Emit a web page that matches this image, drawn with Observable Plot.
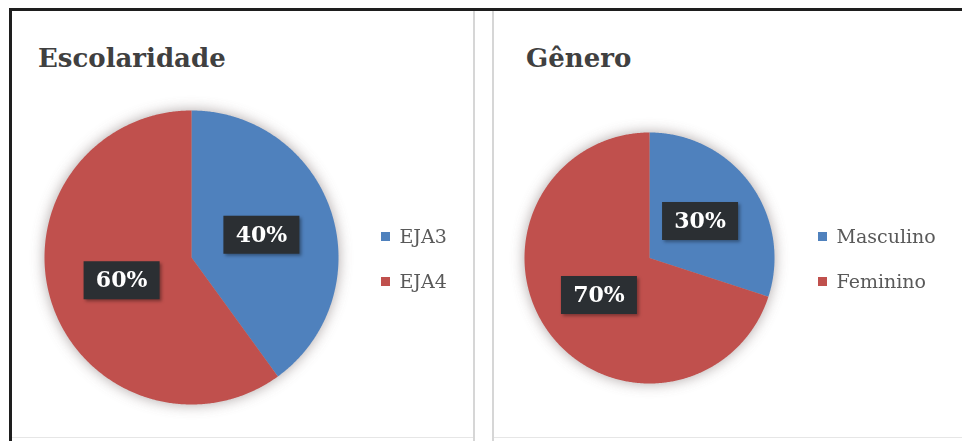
<!DOCTYPE html>
<html><head><meta charset="utf-8">
<script src="https://cdn.jsdelivr.net/npm/d3@7"></script>
<script src="https://cdn.jsdelivr.net/npm/@observablehq/plot@0.6"></script>
<style>
body{margin:0;background:#fff;}
#root{position:relative;width:962px;height:441px;overflow:hidden;background:#fff;}
.ln{position:absolute;}
.title{position:absolute;font-family:"DejaVu Serif",serif;font-weight:bold;font-size:26px;color:#404040;line-height:26px;white-space:nowrap;}
.pane{position:absolute;top:0;}
.leg{position:absolute;width:160px;}
.lg-swatch{padding-bottom:23px !important;line-height:22px;}
</style></head><body><div id="root"></div>
<script>
// ---- data ----
const titles = ["Escolaridade", "Gênero"];
const escCategories = ["EJA3", "EJA4"];
const escValues = [40, 60];
const genCategories = ["Masculino", "Feminino"];
const genValues = [30, 70];
const sliceColors = ["#4f81bd", "#c0504d"];

const root = document.getElementById("root");

function addLine(l, t, w, h, c) {
  const d = document.createElement("div");
  d.className = "ln";
  Object.assign(d.style, {left: l + "px", top: t + "px", width: w + "px", height: h + "px", background: c});
  root.appendChild(d);
}
// frame lines
addLine(10, 8, 952, 3, "#1e1e1e");
addLine(9, 8, 3, 433, "#1e1e1e");
addLine(473, 11, 2, 430, "#d6d6d6");
addLine(492, 11, 2, 430, "#d6d6d6");
addLine(12, 437, 461, 1, "#e6e6e6");
addLine(494, 437, 468, 1, "#e6e6e6");

function sliceGeometry(categories, values) {
  const total = d3.sum(values);
  const pts = [], labels = [];
  let acc = 0;
  categories.forEach((cat, i) => {
    const a0 = 2 * Math.PI * acc / total;
    acc += values[i];
    const a1 = 2 * Math.PI * acc / total;
    const n = Math.max(2, Math.ceil((a1 - a0) / (Math.PI / 360)));
    pts.push({cat, x: 0, y: 0});
    for (let k = 0; k <= n; k++) {
      const a = a0 + (a1 - a0) * k / n;
      pts.push({cat, x: Math.sin(a), y: Math.cos(a)});
    }
    pts.push({cat, x: 0, y: 0});
    const m = (a0 + a1) / 2;
    labels.push({cat, x: 0.5 * Math.sin(m), y: 0.5 * Math.cos(m), text: Math.round(values[i] / total * 100) + "%"});
  });
  return {pts, labels};
}

const boxSymbol = {draw(ctx) { ctx.rect(-38, -19, 76, 38); }};
const SHADOW = "#9a8f8f";
const BOXSHADOW = "#000001";

function pane(opts) {
  const {categories, values, left, margins, title, titleLeft, legendLeft, legendTop, id} = opts;
  const {pts, labels} = sliceGeometry(categories, values);
  const plot = Plot.plot({
    width: 481, height: 441,
    marginLeft: margins[0], marginRight: margins[1], marginTop: margins[2], marginBottom: margins[3],
    x: {domain: [-1, 1], axis: null},
    y: {domain: [-1, 1], axis: null},
    color: {domain: categories, range: sliceColors},
    style: {background: "transparent", overflow: "visible"},
    marks: [
      Plot.line(pts, {x: "x", y: "y", z: "cat", fill: SHADOW, stroke: "none"}),
      Plot.line(pts, {x: "x", y: "y", z: "cat", fill: "cat", stroke: "none", curve: "linear"}),
      Plot.dot(labels, {x: "x", y: "y", symbol: boxSymbol, fill: BOXSHADOW, fillOpacity: 0.35, stroke: "none", dx: 2, dy: 2}),
      Plot.dot(labels, {x: "x", y: "y", symbol: boxSymbol, fill: "#2b2f33", stroke: "none"}),
      Plot.text(labels, {x: "x", y: "y", text: "text", fill: "#ffffff", fontSize: 22, fontWeight: "bold", fontFamily: "DejaVu Serif"})
    ]
  });
  const svg = d3.select(plot);
  const defs = svg.insert("defs", ":first-child");
  defs.append("filter").attr("id", "blur" + id).attr("filterUnits", "userSpaceOnUse")
    .attr("x", 0).attr("y", 0).attr("width", 481).attr("height", 441)
    .append("feGaussianBlur").attr("stdDeviation", 7);
  defs.append("filter").attr("id", "bblur" + id).attr("filterUnits", "userSpaceOnUse")
    .attr("x", 0).attr("y", 0).attr("width", 481).attr("height", 441)
    .append("feGaussianBlur").attr("stdDeviation", 1.5);
  svg.selectAll("g").filter(function() { return this.getAttribute("fill") === SHADOW; })
    .attr("filter", `url(#blur${id})`).attr("opacity", 0.8);
  svg.selectAll("g").filter(function() { return this.getAttribute("fill") === BOXSHADOW; })
    .attr("filter", `url(#bblur${id})`);

  const wrap = document.createElement("div");
  wrap.className = "pane";
  wrap.style.left = left + "px";
  wrap.appendChild(plot);
  root.appendChild(wrap);

  const t = document.createElement("div");
  t.className = "title";
  t.style.left = titleLeft + "px";
  t.style.top = "45px";
  t.textContent = title;
  root.appendChild(t);

  const leg = plot.legend("color", {
    legend: "swatches", columns: 1, swatchSize: 9, className: "lg",
    style: {fontFamily: "DejaVu Serif", fontSize: "19px", color: "#595959", margin: "0"}
  });
  const lw = document.createElement("div");
  lw.className = "leg";
  lw.style.left = legendLeft + "px";
  lw.style.top = legendTop + "px";
  lw.appendChild(leg);
  root.appendChild(lw);
}

pane({categories: escCategories, values: escValues, left: 0, margins: [44, 143, 110, 37],
  title: titles[0], titleLeft: 38, legendLeft: 381, legendTop: 225, id: "a"});
pane({categories: genCategories, values: genValues, left: 481, margins: [43, 188, 132, 58],
  title: titles[1], titleLeft: 526, legendLeft: 818, legendTop: 225, id: "b"});
</script></body></html>
